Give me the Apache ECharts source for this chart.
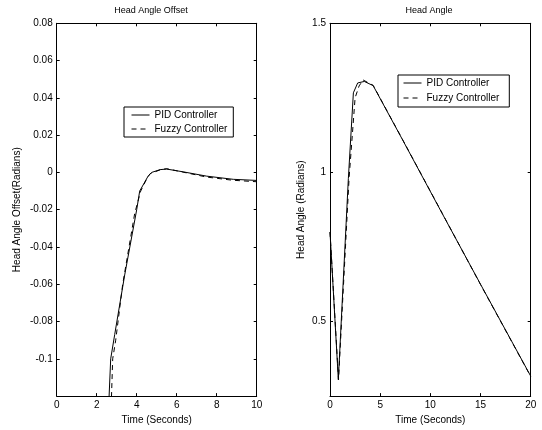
<!DOCTYPE html>
<html>
<head>
<meta charset="utf-8">
<script src="https://cdn.jsdelivr.net/npm/echarts@6/dist/echarts.min.js"></script>
<style>
html,body{margin:0;padding:0;background:#fff;}
#c{width:542px;height:430px;}
</style>
</head>
<body>
<div id="c"></div>
<script>
// ---- Data ----
var seriesNames = ['PID Controller', 'Fuzzy Controller'];

// Left panel: Head Angle Offset
var offsetTimePID   = [2.55, 2.62, 2.7, 2.9, 3.4, 4.0, 4.15, 4.58, 4.75, 5.17, 5.5, 6.33, 7.5, 8.83, 10];
var offsetPID       = [-0.135, -0.12, -0.1, -0.087, -0.055, -0.02, -0.01, -0.0018, 0, 0.0015, 0.0018, 0.0003, -0.002, -0.0037, -0.0043];
var offsetTimeFuzzy = [2.7, 2.74, 2.8, 2.95, 3.3, 3.9, 4.2, 4.47, 4.67, 5.2, 5.5, 6.3, 7.5, 8.8, 10];
var offsetFuzzy     = [-0.135, -0.12, -0.1, -0.09, -0.06, -0.022, -0.01, -0.0041, -0.0007, 0.0015, 0.002, 0.0002, -0.0025, -0.0042, -0.005];

// Right panel: Head Angle
var angleTimePID    = [0, 0.83, 1.83, 2.33, 2.76, 3.42, 4.3, 7.3, 11.2, 15, 20];
var anglePID        = [0.80, 0.305, 0.98, 1.267, 1.30, 1.305, 1.291, 1.105, 0.861, 0.625, 0.317];
var angleTimeFuzzy  = [0, 0.85, 1.9, 2.5, 2.9, 3.3, 4.3, 7.3, 11.2, 15, 20];
var angleFuzzy      = [0.80, 0.305, 0.98, 1.25, 1.29, 1.31, 1.292, 1.106, 0.862, 0.624, 0.316];

// Tick values
var offsetXTicks = {min: 0, max: 10, interval: 2};
var offsetYTicks = {min: -0.12, max: 0.08, interval: 0.02};
var angleXTicks  = {min: 0, max: 20, interval: 5};
var angleYRange  = {min: 0.25, max: 1.5};
var angleYLabels = [0.5, 1, 1.5];

function pairs(xs, ys) { return xs.map(function (x, i) { return [x, ys[i]]; }); }

var FONT = 'Liberation Sans, Arial, sans-serif';
var axisLine = {show: true, onZero: false, lineStyle: {color: '#000', width: 1}};
var tick = {show: true, inside: true, length: 3, lineStyle: {color: '#000', width: 1}};
var lbl = {color: '#000', fontSize: 10, fontFamily: FONT};
var legendCommon = {
  orient: 'vertical', itemWidth: 18, itemHeight: 10, borderColor: '#000', borderWidth: 1,
  backgroundColor: '#fff', selectedMode: false,
  itemStyle: {opacity: 0, borderWidth: 0},
  lineStyle: {width: 1},
  textStyle: {fontSize: 10, color: '#000', fontFamily: FONT}
};
var titleStyle = {fontSize: 9, fontWeight: 'normal', color: '#000', fontFamily: FONT};

var chart = echarts.init(document.getElementById('c'), null, {renderer: 'canvas'});
var option = {
  backgroundColor: '#fff',
  animation: false,
  title: [
    {text: 'Head Angle Offset', left: 151, top: 6, padding: 0, textAlign: 'center', textStyle: titleStyle},
    {text: 'Head Angle', left: 429, top: 6, padding: 0, textAlign: 'center', textStyle: titleStyle}
  ],
  grid: [
    {left: 56.7, right: 285.3, top: 23.3, bottom: 32.3},
    {left: 330, right: 11.3, top: 23.3, bottom: 32.3}
  ],
  legend: [
    Object.assign({data: seriesNames, left: 124, top: 107, padding: [3, 6, 3, 7], itemGap: 4}, legendCommon),
    Object.assign({data: seriesNames, left: 398, top: 75, padding: [3, 10, 4, 5], itemGap: 5}, legendCommon)
  ],
  xAxis: [
    {type: 'value', gridIndex: 0, min: offsetXTicks.min, max: offsetXTicks.max, interval: offsetXTicks.interval,
     name: 'Time (Seconds)', nameLocation: 'middle', nameGap: 17, nameTextStyle: lbl,
     axisLine: axisLine, axisTick: tick, axisLabel: Object.assign({margin: 4}, lbl), splitLine: {show: false}},
    {type: 'value', gridIndex: 0, position: 'top', min: offsetXTicks.min, max: offsetXTicks.max, interval: offsetXTicks.interval,
     axisLine: axisLine, axisTick: tick, axisLabel: {show: false}, splitLine: {show: false}},
    {type: 'value', gridIndex: 1, min: angleXTicks.min, max: angleXTicks.max, interval: angleXTicks.interval,
     name: 'Time (Seconds)', nameLocation: 'middle', nameGap: 17, nameTextStyle: lbl,
     axisLine: axisLine, axisTick: tick, axisLabel: Object.assign({margin: 4}, lbl), splitLine: {show: false}},
    {type: 'value', gridIndex: 1, position: 'top', min: angleXTicks.min, max: angleXTicks.max, interval: angleXTicks.interval,
     axisLine: axisLine, axisTick: tick, axisLabel: {show: false}, splitLine: {show: false}}
  ],
  yAxis: [
    {type: 'value', gridIndex: 0, min: offsetYTicks.min, max: offsetYTicks.max, interval: offsetYTicks.interval,
     name: 'Head Angle Offset(Radians)', nameLocation: 'middle', nameGap: 34, nameTextStyle: lbl,
     axisLine: axisLine, axisTick: tick,
     axisLabel: Object.assign({margin: 4, showMinLabel: false, formatter: function (v) { return String(+v.toFixed(2)); }}, lbl),
     splitLine: {show: false}},
    {type: 'value', gridIndex: 0, position: 'right', min: offsetYTicks.min, max: offsetYTicks.max, interval: offsetYTicks.interval,
     axisLine: axisLine, axisTick: tick, axisLabel: {show: false}, splitLine: {show: false}},
    {type: 'value', gridIndex: 1, min: angleYRange.min, max: angleYRange.max,
     name: 'Head Angle (Radians)', nameLocation: 'middle', nameGap: 24, nameTextStyle: lbl,
     axisLine: axisLine, axisTick: Object.assign({customValues: angleYLabels}, tick),
     axisLabel: Object.assign({margin: 4, customValues: angleYLabels}, lbl),
     splitLine: {show: false}},
    {type: 'value', gridIndex: 1, position: 'right', min: angleYRange.min, max: angleYRange.max,
     axisLine: axisLine, axisTick: Object.assign({customValues: angleYLabels}, tick),
     axisLabel: {show: false}, splitLine: {show: false}}
  ],
  series: [
    {name: seriesNames[0], type: 'line', xAxisIndex: 0, yAxisIndex: 0, symbol: 'none', clip: true,
     data: pairs(offsetTimePID, offsetPID), lineStyle: {color: '#000', width: 1, type: 'solid'}, itemStyle: {color: '#000'}},
    {name: seriesNames[1], type: 'line', xAxisIndex: 0, yAxisIndex: 0, symbol: 'none', clip: true,
     data: pairs(offsetTimeFuzzy, offsetFuzzy), lineStyle: {color: '#000', width: 1, type: [5, 4]}, itemStyle: {color: '#000'}},
    {name: seriesNames[0], type: 'line', xAxisIndex: 2, yAxisIndex: 2, symbol: 'none', clip: true,
     data: pairs(angleTimePID, anglePID), lineStyle: {color: '#000', width: 1, type: 'solid'}, itemStyle: {color: '#000'}},
    {name: seriesNames[1], type: 'line', xAxisIndex: 2, yAxisIndex: 2, symbol: 'none', clip: true,
     data: pairs(angleTimeFuzzy, angleFuzzy), lineStyle: {color: '#000', width: 1, type: [5, 4]}, itemStyle: {color: '#000'}}
  ]
};
chart.setOption(option);
</script>
</body>
</html>
